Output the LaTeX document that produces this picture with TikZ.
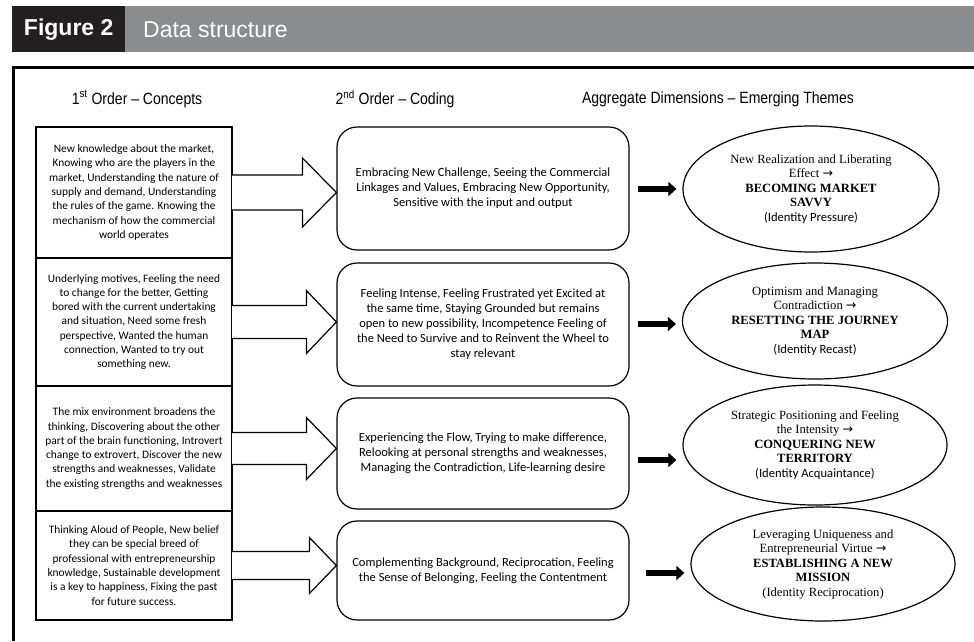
\documentclass[tikz,border=0pt]{standalone}
\usepackage{fontspec}
\setmainfont{Liberation Serif}
\newfontfamily\calfont{Carlito}
\newfontfamily\arialfont{Liberation Sans}
\newfontfamily\narrowfont[FakeStretch=0.86]{Liberation Sans}
\newfontfamily\dejafont{DejaVu Sans}
\usetikzlibrary{calc,shapes.geometric,arrows.meta}
\definecolor{hdrdark}{HTML}{231F20}
\definecolor{hdrgray}{HTML}{8B8C8E}
\newcommand{\arr}{{\dejafont →}}
\begin{document}
\begin{tikzpicture}[x=1pt,y=-1pt,
  conceptbox/.style={draw, line width=1.2pt, minimum width=196pt, inner sep=0pt, align=center, font=\calfont\fontsize{11.4}{14.3}\selectfont},
  codebox/.style={draw, line width=1.2pt, rounded corners=20pt, minimum width=292pt, inner sep=0pt, align=center, font=\calfont\fontsize{12.5}{15}\selectfont},
  themeell/.style={draw, ellipse, line width=1.2pt, inner sep=0pt, align=center, font=\fontsize{12.6}{14.5}\selectfont},
  colhead/.style={font=\narrowfont\fontsize{16.3}{18}\selectfont},
  blockarrow/.style={draw, line width=1.2pt, fill=white, line join=miter},
  thickarrow/.style={line width=6pt, -{Triangle[length=8pt,width=14pt]}, shorten >=6pt},
]
\useasboundingbox (0,0) rectangle (974,641);
% header
\node[fill=hdrdark, minimum width=113pt, minimum height=46pt, inner sep=0pt, anchor=north west,
      text=white, font=\arialfont\bfseries\fontsize{23}{25}\selectfont] (figbox) at (12,6) {Figure 2};
\node[fill=hdrgray, minimum width=849pt, minimum height=46pt, inner sep=0pt, anchor=north west] (graybar) at (125,6) {};
\node[anchor=west, inner sep=0pt, text=white, font=\arialfont\fontsize{23}{25}\selectfont] (title) at ($(graybar.west)+(18,0)$) {Data structure};
% frame
\draw[line width=3pt] (13.5,641) -- (13.5,67) -- (974,67);
% column headings
\node[colhead] (h1) at (137,99) {1\textsuperscript{st} Order – Concepts};
\node[colhead] (h2) at (395,99) {2\textsuperscript{nd} Order – Coding};
\node[colhead] (h3) at (718,99) {Aggregate Dimensions – Emerging Themes};
% left boxes
\node[conceptbox, minimum height=131pt] (L1) at (134,192.5) {New knowledge about the market,\\Knowing who are the players in the\\market, Understanding the nature of\\supply and demand, Understanding\\the rules of the game. Knowing the\\mechanism of how the commercial\\world operates};
\node[conceptbox, minimum height=128pt] (L2) at (134,322) {Underlying motives, Feeling the need\\to change for the better, Getting\\bored with the current undertaking\\and situation, Need some fresh\\perspective, Wanted the human\\connection, Wanted to try out\\something new.};
\node[conceptbox, minimum height=125pt] (L3) at (134,448.5) {The mix environment broadens the\\thinking, Discovering about the other\\part of the brain functioning, Introvert\\change to extrovert, Discover the new\\strengths and weaknesses, Validate\\the existing strengths and weaknesses};
\node[conceptbox, minimum height=109pt] (L4) at (134,565.5) {Thinking Aloud of People, New belief\\they can be special breed of\\professional with entrepreneurship\\knowledge, Sustainable development\\is a key to happiness, Fixing the past\\for future success.};
% middle boxes
\node[codebox, minimum height=123pt] (M1) at (483,188.5) {Embracing New Challenge, Seeing the Commercial\\Linkages and Values, Embracing New Opportunity,\\Sensitive with the input and output};
\node[codebox, minimum height=123pt] (M2) at (483,324.5) {Feeling Intense, Feeling Frustrated yet Excited at\\the same time, Staying Grounded but remains\\open to new possibility, Incompetence Feeling of\\the Need to Survive and to Reinvent the Wheel to\\stay relevant};
\node[codebox, minimum height=111pt] (M3) at (483,453.5) {Experiencing the Flow, Trying to make difference,\\Relooking at personal strengths and weaknesses,\\Managing the Contradiction, Life-learning desire};
\node[codebox, minimum height=99pt] (M4) at (483,570.5) {Complementing Background, Reciprocation, Feeling\\the Sense of Belonging, Feeling the Contentment};
% ellipses
\node[themeell, minimum width=256pt, minimum height=126pt] (E1) at (811,189) {New Realization and Liberating\\Effect \arr\\\textbf{BECOMING MARKET}\\\textbf{SAVVY}\\{\calfont(Identity Pressure)}};
\node[themeell, minimum width=265pt, minimum height=116pt] (E2) at (815,321) {Optimism and Managing\\Contradiction \arr\\\textbf{RESETTING THE JOURNEY}\\\textbf{MAP}\\{\calfont(Identity Recast)}};
\node[themeell, minimum width=264pt, minimum height=120pt] (E3) at (815,445) {Strategic Positioning and Feeling\\the Intensity \arr\\\textbf{CONQUERING NEW}\\\textbf{TERRITORY}\\{\calfont(Identity Acquaintance)}};
\node[themeell, minimum width=264pt, minimum height=114pt] (E4) at (823,564) {Leveraging Uniqueness and\\Entrepreneurial Virtue \arr\\\textbf{ESTABLISHING A NEW}\\\textbf{MISSION}\\(Identity Reciprocation)};
% block arrows
\foreach \i/\hl/\hh/\sh in {1/34/34.5/17.5, 2/30/31.5/16.5, 3/30/31/16, 4/27/28/14} {
  \coordinate (tip\i) at (L\i.east -| M\i.west);
  \path[blockarrow] ($(L\i.east)+(-0.6,-\sh)$) -- ($(tip\i)+(-\hl,-\sh)$) -- ($(tip\i)+(-\hl,-\hh)$) -- (tip\i)
     -- ($(tip\i)+(-\hl,\hh)$) -- ($(tip\i)+(-\hl,\sh)$) -- ($(L\i.east)+(-0.6,\sh)$);
}
% thick arrows
\foreach \i/\dx/\dy in {1/8/0.5, 2/8/-0.5, 3/8/6.5, 4/16/2.5} {
  \coordinate (a\i) at ($(M\i.east)+(\dx,\dy)$);
  \draw[thickarrow] (a\i) -- (a\i -| E\i.west);
}
\end{tikzpicture}
\end{document}
